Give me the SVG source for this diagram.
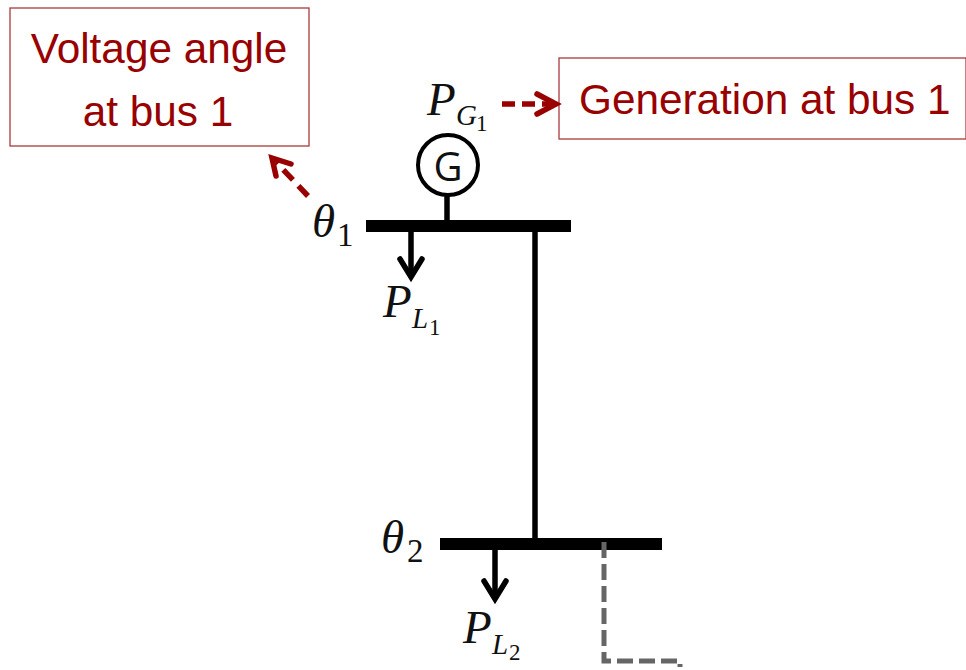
<svg xmlns="http://www.w3.org/2000/svg" width="966" height="670" viewBox="0 0 966 670">
<style>
.box{fill:#fff;stroke:#a83a3a;stroke-width:1.3}
.lbl{font-family:"Liberation Sans",Arial,sans-serif;font-size:42.3px;fill:#990000}
.m{font-family:"Liberation Serif","DejaVu Serif",serif;font-style:italic;font-size:47px;fill:#111}
.s{font-family:"Liberation Serif","DejaVu Serif",serif;font-style:italic;font-size:29px;fill:#111}
.s1{font-family:"Liberation Serif",serif;font-size:23px;fill:#111}
.d{font-family:"Liberation Serif","DejaVu Serif",serif;font-size:33px;fill:#111}
.bus{fill:#000}
.k{stroke:#000;stroke-width:5.5;fill:none}
.red{stroke:#990000;stroke-width:5.5;fill:none}
.gray{stroke:#666;stroke-width:5;fill:none;stroke-dasharray:16 6}
</style>
<g id="box-angle"><rect class="box" x="10" y="8" width="299" height="138"/>
<text class="lbl" x="159" y="63" text-anchor="middle">Voltage angle</text>
<text class="lbl" x="158" y="126" text-anchor="middle">at bus 1</text></g>
<g id="box-generation"><rect class="box" x="559" y="58" width="407" height="81"/>
<text class="lbl" x="579" y="114">Generation at bus 1</text></g>
<g id="generator"><circle cx="448" cy="165" r="30" fill="#fff" stroke="#000" stroke-width="4"/>
<text x="448" y="181" text-anchor="middle" font-family="'Open Sans','Liberation Sans',sans-serif" font-size="40" fill="#111">G</text></g>
<g id="bus1"><rect class="bus" x="366" y="220" width="205" height="12"/></g>
<g id="bus2"><rect class="bus" x="440" y="538" width="222" height="12"/></g>
<g id="label-pg1"><text class="m" x="427" y="115">P</text><text class="s" x="456" y="125">G</text><text class="s1" x="476" y="131">1</text></g>
<g id="label-theta1"><text class="m" x="312" y="237">θ</text><text class="d" x="337" y="246">1</text></g>
<g id="label-pl1"><text class="m" x="383" y="317">P</text><text class="s" x="412" y="328">L</text><text class="s1" x="429" y="335">1</text></g>
<g id="label-theta2"><text class="m" x="381" y="553">θ</text><text class="d" x="407" y="562">2</text></g>
<g id="label-pl2"><text class="m" x="463" y="643">P</text><text class="s" x="492" y="654">L</text><text class="s1" x="509" y="660">2</text></g>
<g id="connectors">
<path class="k" d="M535 232V538"/>
<path class="k" d="M447 196V221"/>
<path class="k" d="M411 230V276"/>
<path class="k" stroke-linecap="round" d="M400 259L411 277L422 259"/>
<path class="k" d="M495 549V598"/>
<path class="k" stroke-linecap="round" d="M484 581L495 599L506 581"/>
<path class="red" stroke-dasharray="13 7" d="M502 104H553"/>
<path class="red" stroke-linecap="round" d="M537 94L556 104L537 114"/>
<path class="red" stroke-dasharray="14 8" d="M308 196L276 162"/>
<path class="red" stroke-linecap="round" d="M276 176L272 158L291 164"/>
<path class="gray" d="M604 542V661H680V667"/>
</g>
</svg>
